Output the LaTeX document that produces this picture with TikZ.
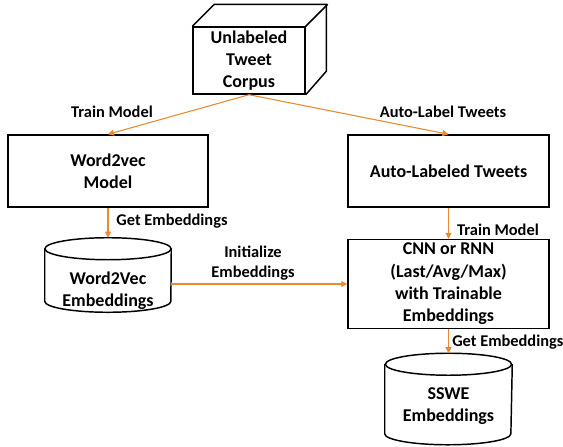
\documentclass[tikz,border=0pt]{standalone}
\usepackage{fontspec}
\setmainfont{Carlito}
\usetikzlibrary{arrows.meta}
\definecolor{arrorange}{RGB}{234,137,46}
\newdimen\upx
\upx=0.75pt
\begin{document}
\begin{tikzpicture}
		[x=\upx,y=-\upx,
			mybox/.style={rectangle,draw,line width=1.1pt,inner sep=0pt,align=center,
				font=\fontsize{13.5}{16.8}\selectfont\bfseries},
			mydb/.style={rectangle,inner sep=0pt},
			mydbtext/.style={align=center,inner sep=0pt,font=\fontsize{13.5}{16.5}\selectfont\bfseries},
			myarrow/.style={draw=arrorange,line width=0.8pt,-{Triangle[length=4.5pt,width=4.5pt]}},
			mylabel/.style={font=\fontsize{12.3}{15}\selectfont\bfseries,align=center,inner sep=0pt}]
	\useasboundingbox (0,0) rectangle (563,446);
	% boxes
	\node[mybox,minimum width=112\upx,minimum height=67\upx] (corpus) at (249,60.5) {Unlabeled\\Tweet\\Corpus};
	\draw[line width=1.1pt] (corpus.north west) -- ++(22,-22) -- ++(112,0) -- ++(0,67) -- (corpus.south east);
	\draw[line width=1.1pt] (corpus.north east) -- ++(22,-22);
	\node[mybox,minimum width=200\upx,minimum height=72\upx] (w2v) at (108,171) {Word2vec\\Model};
	\node[mybox,minimum width=201\upx,minimum height=72\upx] (auto) at (448.5,171) {Auto-Labeled Tweets};
	\node[mybox,minimum width=201\upx,minimum height=89\upx] (cnn) at (448.5,284)
		{CNN or RNN\\(Last/Avg/Max)\\with Trainable\\Embeddings};
	% databases
	\node[mydb,minimum width=126\upx,minimum height=74\upx] (w2vemb) at (108,275) {};
	\node[mydbtext] (w2vembtext) at ([yshift=-11.6pt]w2vemb.center) {Word2Vec\\Embeddings};
	\node[mydb,minimum width=127\upx,minimum height=91\upx] (sswe) at (448.5,399) {};
	\node[mydbtext] (sswetext) at ([yshift=-5.25pt]sswe.center) {SSWE\\Embeddings};
	\foreach \db in {w2vemb,sswe}
	{
		\draw[line width=1.1pt] ([yshift=-8.25pt]\db.north) ellipse [x radius=47.3pt,y radius=8.25pt];
		\draw[line width=1.1pt] ([yshift=-8.25pt]\db.north west) -- ([yshift=8.25pt]\db.south west)
			arc[start angle=180,end angle=360,x radius=47.3pt,y radius=8.25pt] -- ([yshift=-8.25pt]\db.north east);
	}
	% connectors
	\draw[myarrow] (corpus.south) -- (w2v.north);
	\draw[myarrow] (corpus.south) -- (auto.north);
	\draw[myarrow] (w2v.south) -- (w2vemb.north);
	\draw[myarrow] (auto.south) -- (cnn.north);
	\draw[myarrow] (cnn.west -| w2vemb.east) -- (cnn.west);
	\draw[myarrow] (cnn.south) -- (sswe.north);
	% labels
	\node[mylabel] (l1) at (112,112) {Train Model};
	\node[mylabel] (l2) at (443,112) {Auto-Label Tweets};
	\node[mylabel] (l3) at (172,221) {Get Embeddings};
	\node[mylabel] (l4) at (498,230) {Train Model};
	\node[mylabel] (l5) at (253,263) {Initialize\\Embeddings};
	\node[mylabel,anchor=west] (l6) at (452,342) {Get Embeddings};
\end{tikzpicture}
\end{document}
